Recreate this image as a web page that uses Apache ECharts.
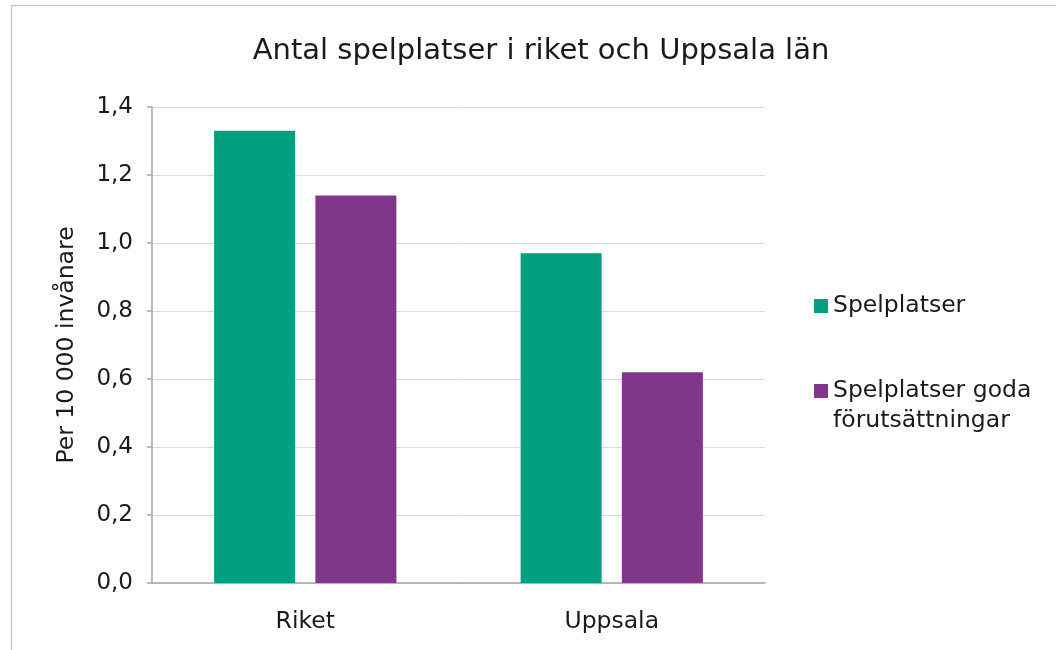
<!DOCTYPE html>
<html>
<head>
<meta charset="utf-8">
<script src="https://cdn.jsdelivr.net/npm/echarts@6/dist/echarts.min.js"></script>
<style>
  html, body { margin: 0; padding: 0; background: #fff; }
  #chart { width: 1056px; height: 650px; }
</style>
</head>
<body>
<div id="chart"></div>
<script>
const categories = ['Riket', 'Uppsala']
const spelplatser = [1.33, 0.97]
const spelplatserGoda = [1.14, 0.62]
const seriesNames = ['Spelplatser', 'Spelplatser goda förutsättningar']

const font = 'DejaVu Sans'
const textColor = '#1a1a1a'
const chart = echarts.init(document.getElementById('chart'))

// wrapped legend label: an empty first line keeps the icon next to the first text line
function legendLabel(name) {
  if (name.indexOf(' goda ') < 0) return name
  return '\n' + name.replace(' goda ', ' goda\n')
}

chart.setOption({
  animation: false,
  textStyle: { fontFamily: font, color: textColor },
  // thin frame around the chart area, like the exported picture
  graphic: [{
    type: 'rect',
    shape: { x: 11.5, y: 5.5, width: 1200, height: 800 },
    style: { fill: 'none', stroke: '#c9c9c9', lineWidth: 1.5 },
    silent: true,
  }],
  title: {
    text: 'Antal spelplatser i riket och Uppsala län',
    left: 536,
    textAlign: 'center',
    top: 32,
    textStyle: { fontFamily: font, fontSize: 29, fontWeight: 'normal', color: textColor },
  },
  legend: {
    orient: 'vertical',
    left: 814,
    top: 291,
    padding: 0,
    itemWidth: 14,
    itemHeight: 14,
    itemGap: 25,
    icon: 'rect',
    data: seriesNames,
    formatter: legendLabel,
    textStyle: { fontFamily: font, fontSize: 23.5, color: textColor, lineHeight: 30 },
  },
  grid: { left: 152, right: 291, top: 107, bottom: 67, containLabel: false },
  xAxis: {
    type: 'category',
    data: categories,
    axisLine: { lineStyle: { color: '#a6a6a6', width: 1.5 } },
    axisTick: { show: false },
    axisLabel: { fontFamily: font, fontSize: 23.5, color: textColor, margin: 27 },
  },
  yAxis: {
    type: 'value',
    min: 0,
    max: 1.4,
    interval: 0.2,
    name: 'Per 10 000 invånare',
    nameLocation: 'middle',
    nameGap: 73,
    nameTextStyle: { fontFamily: font, fontSize: 23.5, color: textColor },
    axisLine: { show: true, lineStyle: { color: '#a6a6a6', width: 1.5 } },
    axisTick: { show: true, length: 5, lineStyle: { color: '#a6a6a6', width: 1.5 } },
    axisLabel: {
      fontFamily: font, fontSize: 23, color: textColor, margin: 19,
      formatter: (v) => v.toFixed(1).replace('.', ','),
    },
    splitLine: { lineStyle: { color: '#d9d9d9', width: 1 } },
  },
  series: [
    {
      name: seriesNames[0],
      type: 'bar',
      data: spelplatser,
      barWidth: 81,
      barGap: '25%',
      itemStyle: { color: '#009f7f' },
    },
    {
      name: seriesNames[1],
      type: 'bar',
      data: spelplatserGoda,
      barWidth: 81,
      itemStyle: { color: '#80368a' },
    },
  ],
})
</script>
</body>
</html>
